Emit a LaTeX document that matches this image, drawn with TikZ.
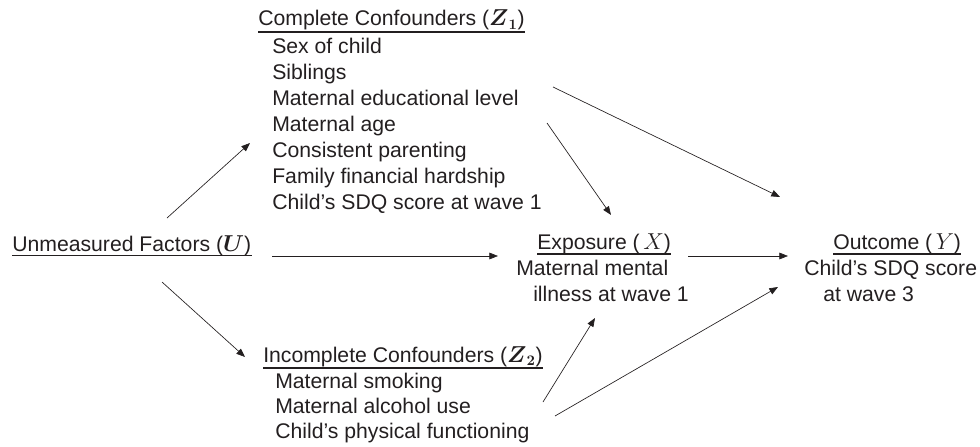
\documentclass[tikz,border=0pt]{standalone}
\usepackage{amsmath}
\usepackage{fontspec}
\setmainfont{Liberation Sans}
\usetikzlibrary{arrows.meta}
\definecolor{ink}{RGB}{35,31,32}

\begin{document}
\begin{tikzpicture}[x=0.75pt,y=-0.75pt,
  lbl/.style={anchor=base west,inner sep=0pt,text=ink,font=\fontsize{15.9}{19}\selectfont},
  uline/.style={draw=ink,line width=1pt},
  arr/.style={draw=ink,line width=0.5pt,-{Triangle[length=6.5pt,width=5pt]}}]
  \useasboundingbox (0,0) rectangle (980,446);

  % Unmeasured factors
  \node[lbl] (u) at (12,251) {Unmeasured Factors ($\boldsymbol{U}$)};
  \draw[uline] ([yshift=-3.5pt]u.base west) -- ([yshift=-3.5pt]u.base east);

  % Complete confounders
  \node[lbl] (z1) at (258,26) {Complete Confounders ($\boldsymbol{Z}_{\boldsymbol{1}}$)};
  \draw[uline] ([yshift=-4.6pt]z1.base west) -- ([yshift=-4.6pt]z1.base east);
  \node[lbl] (z1a) at (272,53) {Sex of child};
  \node[lbl] (z1b) at (272,79) {Siblings};
  \node[lbl] (z1c) at (272,105) {Maternal educational level};
  \node[lbl] (z1d) at (272,131) {Maternal age};
  \node[lbl] (z1e) at (272,157.5) {Consistent parenting};
  \node[lbl] (z1f) at (272,183.5) {Family financial hardship};
  \node[lbl] (z1g) at (272,209.5) {Child’s SDQ score at wave 1};

  % Incomplete confounders
  \node[lbl] (z2) at (263,362) {Incomplete Confounders ($\boldsymbol{Z}_{\boldsymbol{2}}$)};
  \draw[uline] ([yshift=-4.6pt]z2.base west) -- ([yshift=-4.6pt]z2.base east);
  \node[lbl] (z2a) at (275,388) {Maternal smoking};
  \node[lbl] (z2b) at (275,413) {Maternal alcohol use};
  \node[lbl] (z2c) at (275,438) {Child’s physical functioning};

  % Exposure
  \node[lbl] (x) at (537,249) {Exposure (\,$X$)};
  \draw[uline] ([yshift=-3.8pt]x.base west) -- ([yshift=-3.8pt]x.base east);
  \node[lbl] (xa) at (516,275) {Maternal mental};
  \node[lbl] (xb) at (533,301.5) {illness at wave 1};

  % Outcome
  \node[lbl] (y) at (833,249) {Outcome (\,$Y$)};
  \draw[uline] ([yshift=-3.8pt]y.base west) -- ([yshift=-3.8pt]y.base east);
  \node[lbl] (ya) at (804,275) {Child’s SDQ score};
  \node[lbl] (yb) at (823,301.5) {at wave 3};

  % arrow ends
  \coordinate (uUp) at (167,218);
  \coordinate (uMid) at (272,256);
  \coordinate (uLow) at (162,282);
  \coordinate (z1In) at (250,143);
  \coordinate (z1ToX) at (547,123);
  \coordinate (z1ToY) at (553,87);
  \coordinate (z2In) at (245,357);
  \coordinate (z2ToX) at (543,402);
  \coordinate (z2ToY) at (555,416);
  \coordinate (xInL) at (498,256);
  \coordinate (xInT) at (611,215);
  \coordinate (xInB) at (595,318);
  \coordinate (xOut) at (688,256);
  \coordinate (yInL) at (788,256);
  \coordinate (yInT) at (780,197);
  \coordinate (yInB) at (778,287);

  \draw[arr] (uUp) -- (z1In);
  \draw[arr] (uMid) -- (xInL);
  \draw[arr] (uLow) -- (z2In);
  \draw[arr] (z1ToX) -- (xInT);
  \draw[arr] (z1ToY) -- (yInT);
  \draw[arr] (z2ToX) -- (xInB);
  \draw[arr] (z2ToY) -- (yInB);
  \draw[arr] (xOut) -- (yInL);
\end{tikzpicture}
\end{document}
